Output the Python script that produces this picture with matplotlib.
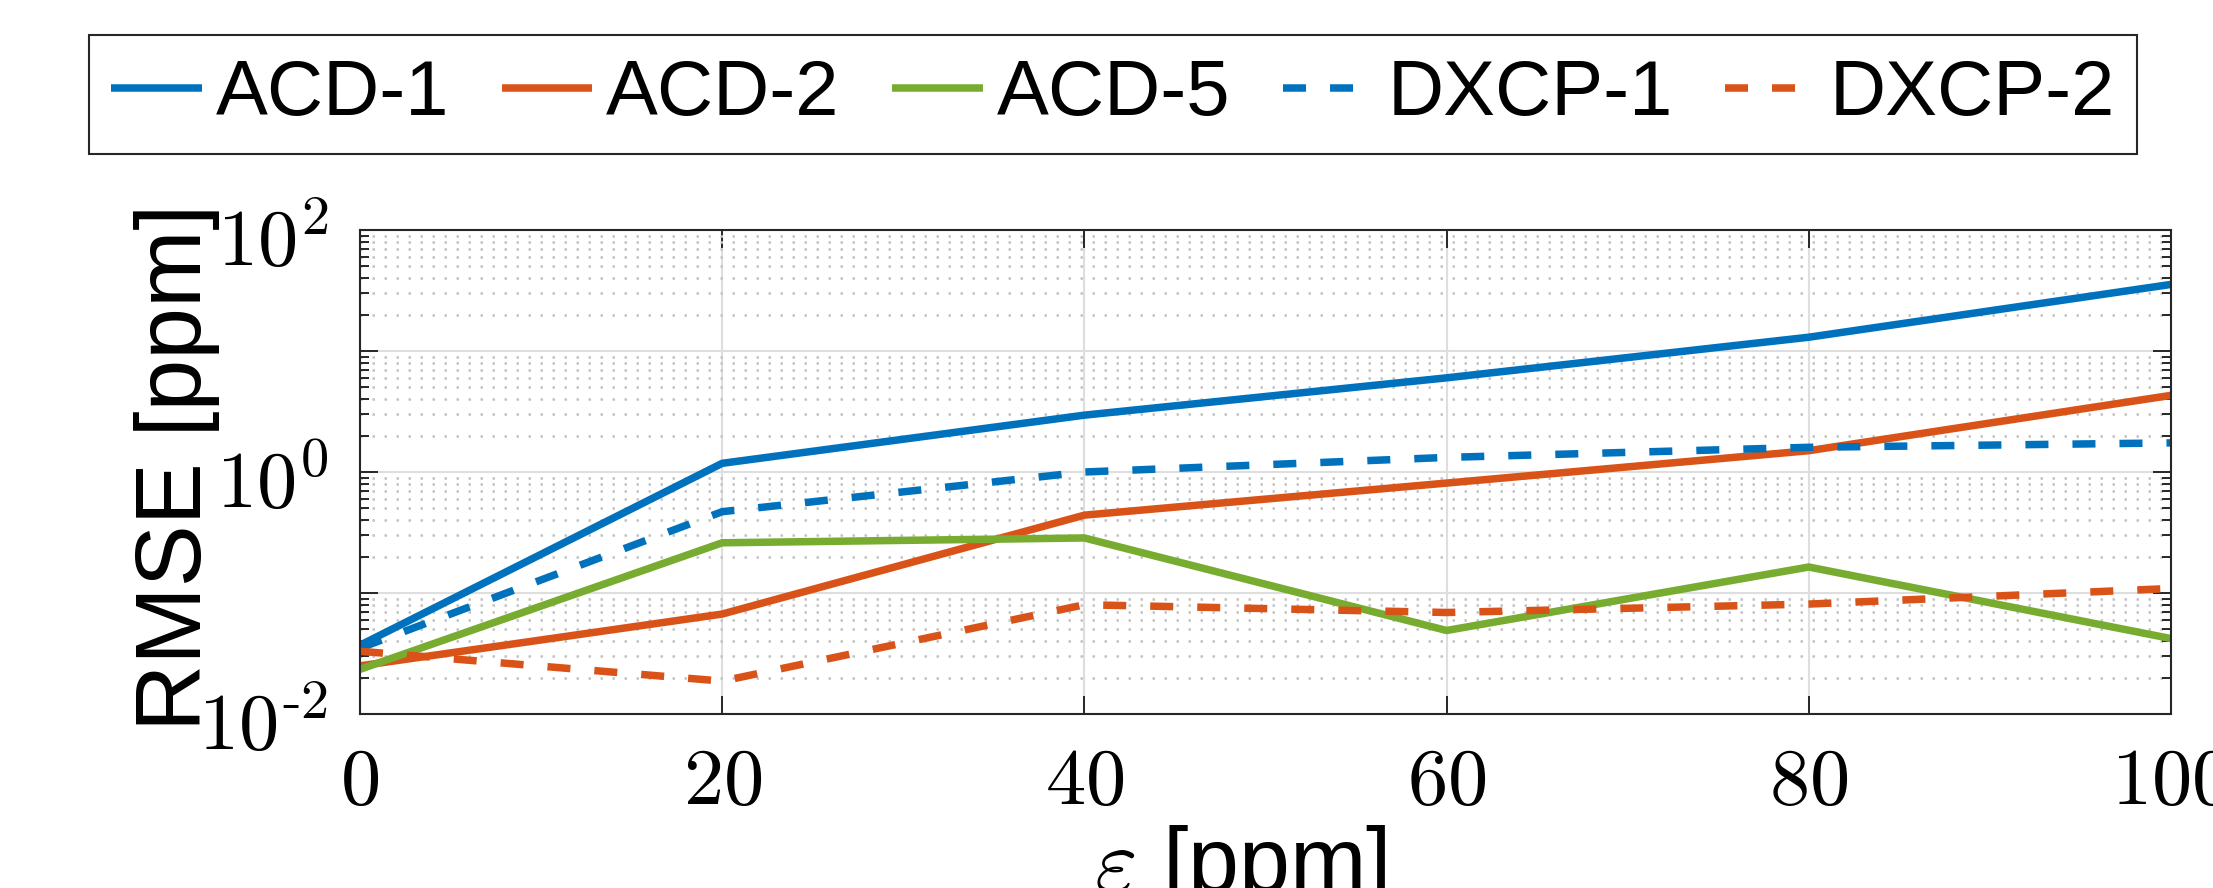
import numpy as np
import matplotlib
matplotlib.use("Agg")
import matplotlib.pyplot as plt
from matplotlib.ticker import FixedLocator, LogLocator, NullFormatter
import matplotlib.transforms as mtransforms

plt.rcParams['font.family'] = ['Liberation Sans', 'DejaVu Sans']
plt.rcParams['mathtext.fontset'] = 'cm'

# values
eps = [0, 20, 40, 60, 80, 100]
acd1 = [0.037, 1.18, 2.95, 6.0, 13.0, 35.5]
acd2 = [0.025, 0.067, 0.44, 0.81, 1.5, 4.3]
acd5 = [0.0234, 0.26, 0.285, 0.049, 0.164, 0.042]
dxcp1 = [0.035, 0.47, 1.0, 1.32, 1.6, 1.74]
dxcp2 = [0.033, 0.0187, 0.080, 0.069, 0.081, 0.109]

labels = ['ACD-1', 'ACD-2', 'ACD-5', 'DXCP-1', 'DXCP-2']
xticks = [0, 20, 40, 60, 80, 100]
yticks = [1e-2, 1e-1, 1e0, 1e1, 1e2]
ytick_labels = [r'$10^{\text{-}2}$', '', r'$10^{0}$', '', r'$10^{2}$']

blue = '#0072BD'
orange = '#D95319'
green = '#77AC30'
axcol = '#262626'

W, H = 2213, 888
fig = plt.figure(figsize=(W / 100, H / 100), dpi=100)
ax = fig.add_axes([360 / W, 1 - 714 / H, (2171 - 360) / W, (714 - 230) / H])

lw = 5.4
dash = (3.07, 3.2)
ax.plot(eps, acd1, color=blue, lw=lw, solid_capstyle='butt', label=labels[0])
ax.plot(eps, acd2, color=orange, lw=lw, solid_capstyle='butt', label=labels[1])
ax.plot(eps, acd5, color=green, lw=lw, solid_capstyle='butt', label=labels[2])
ax.plot(eps, dxcp1, color=blue, lw=lw, dashes=dash, label=labels[3])
ax.plot(eps, dxcp2, color=orange, lw=lw, dashes=dash, label=labels[4])

ax.set_yscale('log')
ax.set_xlim(0, 100)
ax.set_ylim(1e-2, 1e2)

ax.xaxis.set_major_locator(FixedLocator(xticks))
ax.set_xticklabels([f'${t}$' for t in xticks])
ax.yaxis.set_major_locator(FixedLocator(yticks))
ax.set_yticklabels(ytick_labels)
ax.yaxis.set_minor_locator(LogLocator(base=10, subs=np.arange(2, 10), numticks=20))
ax.yaxis.set_minor_formatter(NullFormatter())

ax.set_axisbelow(True)
ax.grid(which='major', color='#dedede', lw=1.5, ls='-')
ax.grid(which='minor', axis='y', color='#c2c2c2', lw=1.8, ls=(0, (1, 3.8)))

ax.tick_params(which='both', direction='in', top=True, right=True,
               color=axcol, width=1.4)
ax.tick_params(which='major', length=13, labelsize=58)
ax.tick_params(which='minor', length=6.5)
ax.tick_params(axis='x', which='major', pad=22)
ax.tick_params(axis='y', which='major', pad=23)
for s in ax.spines.values():
    s.set_linewidth(1.5)
    s.set_color(axcol)

# MATLAB puts the y labels a bit lower than the tick
off = mtransforms.ScaledTranslation(0, -5 / 72, fig.dpi_scale_trans)
for t in ax.get_yticklabels():
    t.set_transform(t.get_transform() + off)

ax.set_ylabel('RMSE [ppm]', fontsize=67)
ax.yaxis.set_label_coords(-0.0773, 0.51)
ax.set_xlabel(r'$\varepsilon$ [ppm]', fontsize=66)
ax.xaxis.set_label_coords(0.486, -0.368)
ax.xaxis.label.set_va('baseline')

handles, labs = ax.get_legend_handles_labels()
leg = fig.legend(handles, labs, ncol=5, loc='center',
                 bbox_to_anchor=(0.503, 0.8936), fontsize=56,
                 handlelength=1.16, handletextpad=0.18, columnspacing=0.68,
                 borderpad=0.29, fancybox=False, framealpha=1)
leg.get_frame().set_edgecolor(axcol)
leg.get_frame().set_linewidth(1.5)

fig.savefig('out.png', dpi=100)
